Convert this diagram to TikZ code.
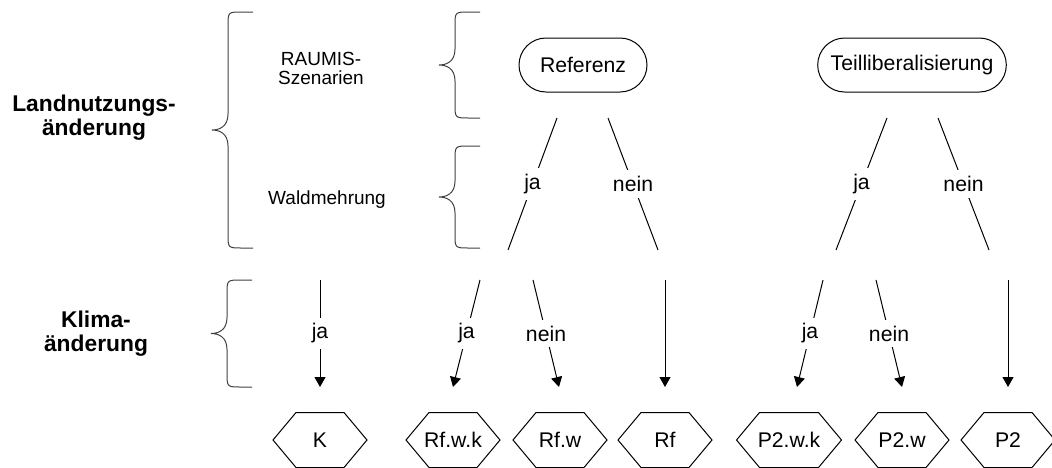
\documentclass[tikz,border=0pt]{standalone}
\usepackage{fontspec}
\setmainfont{Liberation Sans}
\usetikzlibrary{arrows.meta,calc}

\tikzset{
  scen/.style={draw, rounded corners=13.5pt, minimum width=64pt, minimum height=27pt,
    inner xsep=6.5pt, font=\fontsize{10.6}{12.7}\selectfont},
  result/.style={minimum width=46.5pt, minimum height=27pt, inner sep=0pt,
    font=\fontsize{10.6}{12.7}\selectfont},
  level/.style={align=center, font=\fontsize{11.4}{12}\selectfont\bfseries},
  part/.style={align=center, font=\fontsize{9.5}{9.5}\selectfont},
  lbl/.style={fill=white, inner sep=3pt, font=\fontsize{10.6}{12.7}\selectfont},
  arr/.style={-{Triangle[width=5.5pt,length=5pt]}},
  bracket/.style={draw=black!75},
}

\begin{document}
\begin{tikzpicture}[x=0.5pt, y=-0.5pt, line width=0.5pt]
\useasboundingbox (0,0) rectangle (1052,467);

% left column
\node[level] (landnutz) at (94,118) {Landnutzungs-\\änderung};
\node[level] (klima) at (96,334) {Klima-\\änderung};
\node[part] (raumis) at (321,68) {RAUMIS-\\Szenarien};
\node[part] (wald) at (327,200) {Waldmehrung};

% braces
\foreach \x/\t/\b in {228/12/248, 455/12/118, 455/146/248, 227/280/387}
  \draw[bracket] (\x+25,\t) -- (\x+14,\t) .. controls (\x,\t) .. (\x,\t+14)
    -- (\x,{(\t+\b)/2-16}) .. controls (\x,{(\t+\b)/2-3}) and (\x-9,{(\t+\b)/2}) .. (\x-16,{(\t+\b)/2})
    .. controls (\x-9,{(\t+\b)/2}) and (\x,{(\t+\b)/2+3}) .. (\x,{(\t+\b)/2+16})
    -- (\x,\b-14) .. controls (\x,\b) .. (\x+14,\b) -- (\x+25,\b);

% scenarios
\node[scen] (ref) at (583,65) {Referenz};
\node[scen] (teil) at (912,65) {Teilliberalisierung};

% results
\node[result] (k) at (320,440) {K};
\node[result] (rfwk) at (453,440) {Rf.w.k};
\node[result] (rfw) at (560,440) {Rf.w};
\node[result] (rf) at (665,440) {Rf};
\node[result, minimum width=52pt] (ptwk) at (789,440) {P2.w.k};
\node[result] (ptw) at (902,440) {P2.w};
\node[result] (pt) at (1008,440) {P2};
\foreach \n in {k,rfwk,rfw,rf,ptwk,ptw,pt}
  \draw (\n.west) -- ([xshift=11.5pt]\n.north west) -- ([xshift=-11.5pt]\n.north east)
    -- (\n.east) -- ([xshift=-11.5pt]\n.south east) -- ([xshift=11.5pt]\n.south west) -- cycle;

% Waldmehrung
\coordinate (rj1) at (557,118); \coordinate (rj2) at (508,250);
\coordinate (rn1) at (608,118); \coordinate (rn2) at (658,250);
\coordinate (tj1) at (887,118); \coordinate (tj2) at (836,250);
\coordinate (tn1) at (938,118); \coordinate (tn2) at (989,250);
\draw (rj1) -- node[lbl] {ja} (rj2);
\draw (rn1) -- node[lbl] {nein} (rn2);
\draw (tj1) -- node[lbl] {ja} (tj2);
\draw (tn1) -- node[lbl] {nein} (tn2);

% Klimaaenderung
\coordinate (k1) at (320,280); \coordinate (k2) at (320,387);
\coordinate (rfwk1) at (480,280); \coordinate (rfwk2) at (453,387);
\coordinate (rfw1) at (533,280); \coordinate (rfw2) at (559,387);
\coordinate (rf1) at (665,280); \coordinate (rf2) at (665,387);
\coordinate (ptwk1) at (823,280); \coordinate (ptwk2) at (797,387);
\coordinate (ptw1) at (876,280); \coordinate (ptw2) at (902,387);
\coordinate (pt1) at (1008,280); \coordinate (pt2) at (1008,387);
\draw[arr] (k1) -- node[lbl] {ja} (k2);
\draw[arr] (rfwk1) -- node[lbl] {ja} (rfwk2);
\draw[arr] (rfw1) -- node[lbl] {nein} (rfw2);
\draw[arr] (rf1) -- (rf2);
\draw[arr] (ptwk1) -- node[lbl] {ja} (ptwk2);
\draw[arr] (ptw1) -- node[lbl] {nein} (ptw2);
\draw[arr] (pt1) -- (pt2);
\end{tikzpicture}
\end{document}
